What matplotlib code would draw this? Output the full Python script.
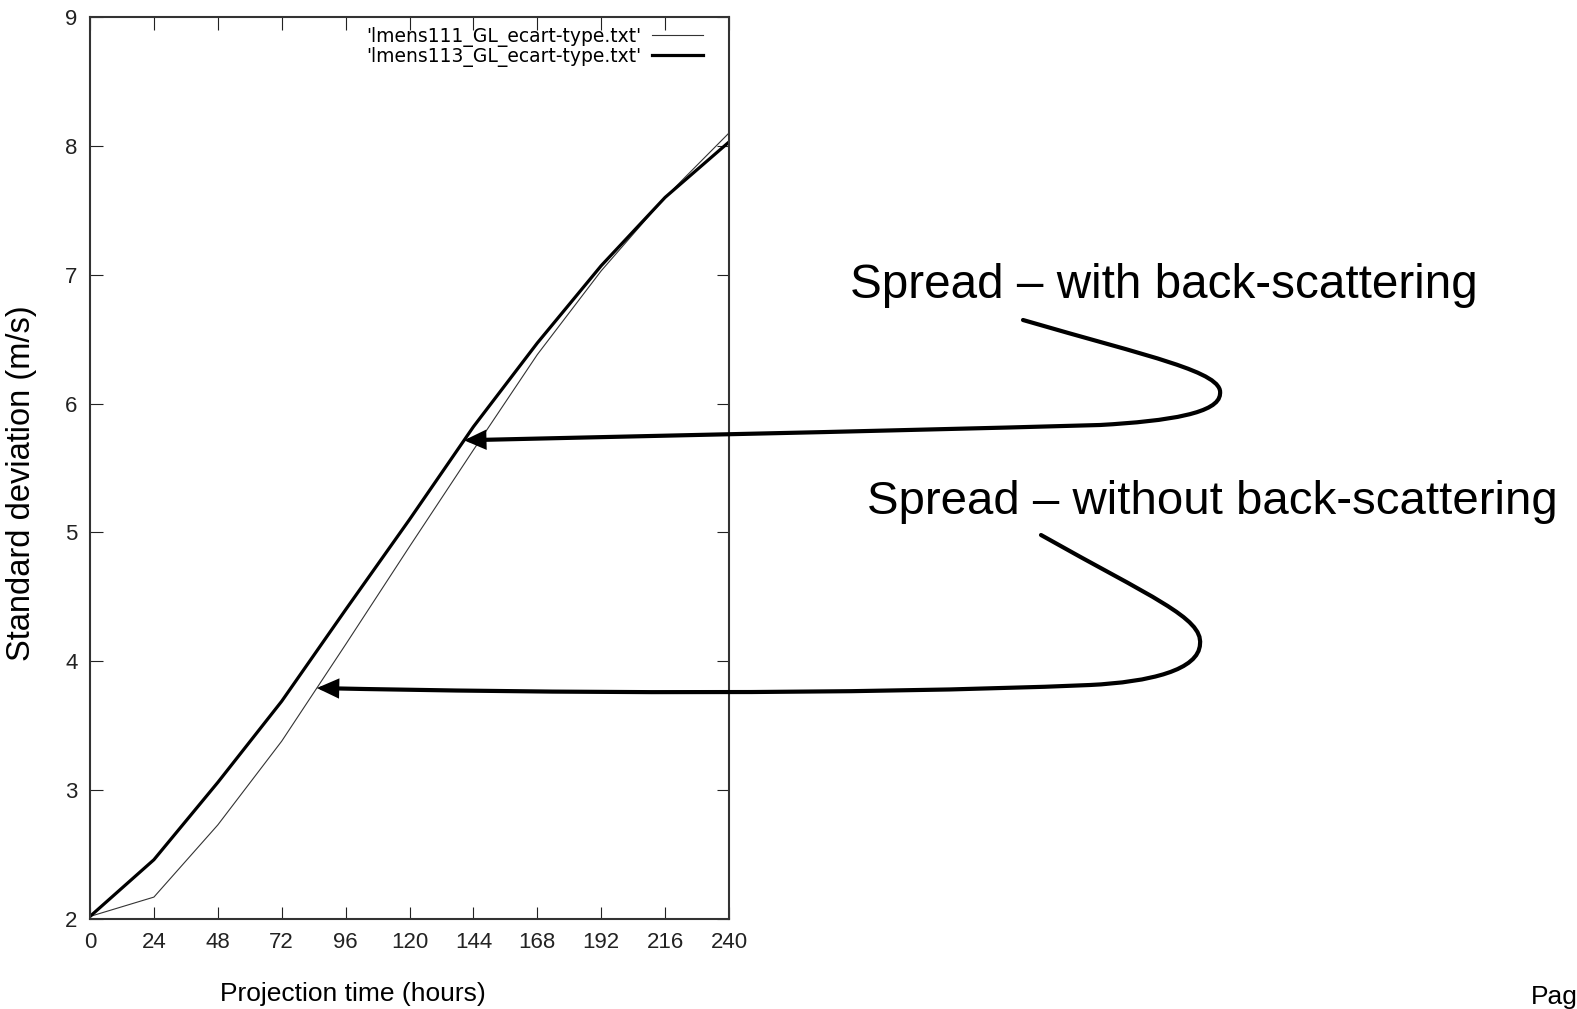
import numpy as np
import matplotlib
matplotlib.use("Agg")
import matplotlib.pyplot as plt
from matplotlib.path import Path
from matplotlib.patches import FancyArrowPatch
from matplotlib.transforms import IdentityTransform

# ================================
# Data
# ================================
hours = [0, 24, 48, 72, 96, 120, 144, 168, 192, 216, 240]
std_111 = [2.02, 2.17, 2.73, 3.38, 4.13, 4.89, 5.64, 6.38, 7.03, 7.60, 8.10]
std_113 = [2.02, 2.46, 3.06, 3.69, 4.40, 5.10, 5.82, 6.47, 7.07, 7.60, 8.03]
label_111 = "'lmens111_GL_ecart-type.txt'"
label_113 = "'lmens113_GL_ecart-type.txt'"
x_ticks = hours
y_ticks = [2, 3, 4, 5, 6, 7, 8, 9]

# where the two arrows touch the curves (hours)
tip_with_h = 140.5
tip_without_h = 85.2

W, H = 1577, 1009


def fpos(x, y):
    # pixel (top-left origin) -> figure fraction
    return x / W, 1 - y / H


fig = plt.figure(figsize=(W / 100, H / 100), dpi=100)
ax = fig.add_axes([90 / W, (H - 919) / H, 639 / W, 902 / H])

ax.plot(hours, std_111, color="#333333", linewidth=0.8, label=label_111)
ax.plot(hours, std_113, color="black", linewidth=2.3, label=label_113)

ax.set_xlim(0, 240)
ax.set_ylim(2, 9)
ax.set_xticks(x_ticks)
ax.set_yticks(y_ticks)
ax.tick_params(direction="in", length=9, width=0.8, top=True, right=True,
               labelsize=16, pad=9, colors="#222222")
for lab in ax.get_xticklabels() + ax.get_yticklabels():
    lab.set_family("Liberation Sans")
for sp in ax.spines.values():
    sp.set_linewidth(1.5)
    sp.set_color("#333333")

leg = ax.legend(loc="upper right", frameon=False, markerfirst=False,
                fontsize=13.5, handlelength=2.7, labelspacing=0,
                borderaxespad=0, borderpad=0, handletextpad=0.6,
                bbox_to_anchor=(1 - 26 / 639, 1 - 10 / 902))
for t in leg.get_texts():
    t.set_family("DejaVu Sans")

# axis labels as placed on the slide
fig.text(*fpos(353, 994), "Projection time (hours)", ha="center", va="center",
         fontsize=19, family="Liberation Sans")
fig.text(*fpos(22, 483), "Standard deviation (m/s)", ha="center", va="center",
         rotation=90, fontsize=23.5, family="Liberation Sans")

# annotations
fig.text(*fpos(850, 286), "Spread \u2013 with back-scattering", ha="left",
         va="center", fontsize=34.3, family="Liberation Sans")
fig.text(*fpos(867, 502), "Spread \u2013 without back-scattering", ha="left",
         va="center", fontsize=34.1, family="Liberation Sans")
fig.text(*fpos(1531, 1004), "Pag", ha="left", va="baseline", fontsize=19,
         family="Liberation Sans")

fig.canvas.draw()


def to_disp(pts):
    return [(x, H - y) for x, y in pts]


def tip_disp(h, series):
    return tuple(ax.transData.transform((h, np.interp(h, hours, series))))


arrow_specs = [
    # start, c1, c2, bend, c3, c4, mid, c5, c6
    ([(1023, 320), (1150, 357), (1224, 372), (1220, 394),
      (1219, 413), (1170, 421), (1100, 425), (850, 432), (600, 437)],
     tip_disp(tip_with_h, std_113)),
    ([(1041, 535), (1151, 597), (1203, 618), (1200, 644),
      (1199, 670), (1150, 682), (1090, 685), (850, 695), (550, 693)],
     tip_disp(tip_without_h, std_111)),
]

for pts, tip in arrow_specs:
    verts = to_disp(pts) + [tip]
    codes = [Path.MOVETO] + [Path.CURVE4] * 9
    arr = FancyArrowPatch(path=Path(verts, codes), transform=IdentityTransform(),
                          arrowstyle="-|>,head_length=1.1,head_width=0.5",
                          mutation_scale=10, linewidth=3, color="black",
                          shrinkA=0, shrinkB=0, joinstyle="miter")
    fig.patches.append(arr)

fig.savefig("out.png", dpi=100)
